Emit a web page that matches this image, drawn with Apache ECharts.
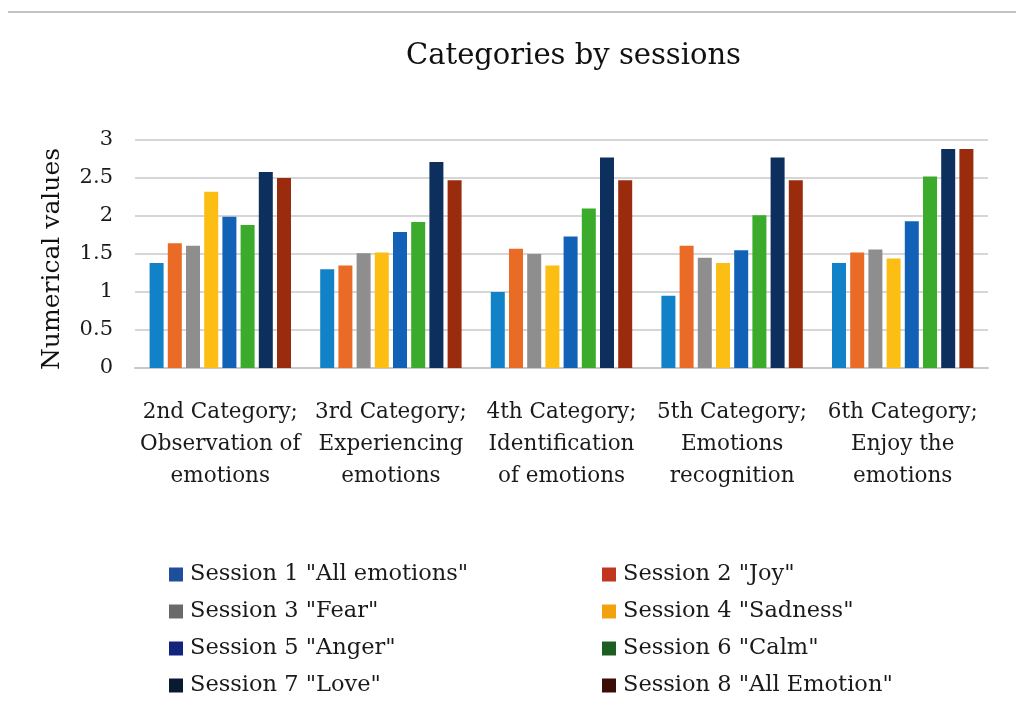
<!DOCTYPE html>
<html>
<head>
<meta charset="utf-8">
<script src="https://cdn.jsdelivr.net/npm/echarts@6/dist/echarts.min.js"></script>
<style>
  html, body { margin: 0; padding: 0; background: #fff; }
  #chart { width: 1016px; height: 718px; }
</style>
</head>
<body>
<div id="chart"></div>
<script>
// Category labels along the x axis
const categories = [
  '2nd Category;\nObservation of\nemotions',
  '3rd Category;\nExperiencing\nemotions',
  '4th Category;\nIdentification\nof emotions',
  '5th Category;\nEmotions\nrecognition',
  '6th Category;\nEnjoy the\nemotions'
];

// Session names
const sessionNames = [
  'Session 1 "All emotions"',
  'Session 2 "Joy"',
  'Session 3 "Fear"',
  'Session 4 "Sadness"',
  'Session 5 "Anger"',
  'Session 6 "Calm"',
  'Session 7 "Love"',
  'Session 8 "All Emotion"'
];

// Values per session, one entry per category
const session1 = [1.38, 1.30, 1.00, 0.95, 1.38];
const session2 = [1.64, 1.35, 1.57, 1.61, 1.52];
const session3 = [1.61, 1.51, 1.50, 1.45, 1.56];
const session4 = [2.32, 1.52, 1.35, 1.38, 1.44];
const session5 = [1.99, 1.79, 1.73, 1.55, 1.93];
const session6 = [1.88, 1.92, 2.10, 2.01, 2.52];
const session7 = [2.58, 2.71, 2.77, 2.77, 2.88];
const session8 = [2.50, 2.47, 2.47, 2.47, 2.88];

const sessionValues = [session1, session2, session3, session4, session5, session6, session7, session8];

// Bar fills and legend swatch fills
const barColors = ['#1282c8', '#ea6b26', '#8e8e8e', '#fdbe14', '#1162b6', '#3aab2a', '#0d2f5e', '#9b2b0d'];
const swatchColors = ['#1d4f9c', '#c2361f', '#6a6a6a', '#f2a20c', '#14247e', '#1c5e22', '#0a1a30', '#3d0c06'];

const serif = '"DejaVu Serif", "Liberation Serif", serif';

const series = sessionNames.map((name, i) => ({
  name: name,
  type: 'bar',
  data: sessionValues[i],
  barWidth: 14,
  barGap: '30%',
  itemStyle: { color: barColors[i] }
}));

const legendItem = i => ({ name: sessionNames[i], itemStyle: { color: swatchColors[i] } });

const legendBase = {
  orient: 'vertical',
  top: 557,
  itemWidth: 14,
  itemHeight: 14,
  itemGap: 12,
  icon: 'rect',
  textStyle: { fontFamily: serif, fontSize: 22.5, color: '#1a1a1a', padding: [0, 0, 0, 2], lineHeight: 25 }
};

const chart = echarts.init(document.getElementById('chart'));
chart.setOption({
  backgroundColor: '#ffffff',
  animation: false,
  title: {
    text: 'Categories by sessions',
    left: 401,
    top: 37,
    textStyle: { fontFamily: serif, fontSize: 29, fontWeight: 'normal', color: '#111' }
  },
  grid: { left: 135, right: 28, top: 140, bottom: 350 },
  legend: [
    Object.assign({}, legendBase, { left: 164, data: [0, 2, 4, 6].map(legendItem) }),
    Object.assign({}, legendBase, { left: 597, data: [1, 3, 5, 7].map(legendItem) })
  ],
  xAxis: {
    type: 'category',
    data: categories,
    axisLine: { lineStyle: { color: '#c8c8c8', width: 2 } },
    axisTick: { show: false },
    axisLabel: {
      fontFamily: serif,
      fontSize: 21.5,
      color: '#1a1a1a',
      lineHeight: 32,
      margin: 28,
      interval: 0
    }
  },
  yAxis: {
    type: 'value',
    min: 0,
    max: 3,
    interval: 0.5,
    name: 'Numerical values',
    nameLocation: 'middle',
    nameGap: 70,
    nameTextStyle: { fontFamily: serif, fontSize: 25, color: '#111', padding: [0, 10, 0, 0] },
    axisLine: { show: false },
    axisTick: { show: false },
    axisLabel: { fontFamily: serif, fontSize: 21, color: '#1a1a1a', margin: 22 },
    splitLine: { lineStyle: { color: '#d6d6d6', width: 2 } }
  },
  graphic: [
    {
      type: 'line',
      shape: { x1: 8, y1: 12, x2: 1016, y2: 12 },
      style: { stroke: '#c4c4c4', lineWidth: 2 }
    }
  ],
  series: series
});
</script>
</body>
</html>
